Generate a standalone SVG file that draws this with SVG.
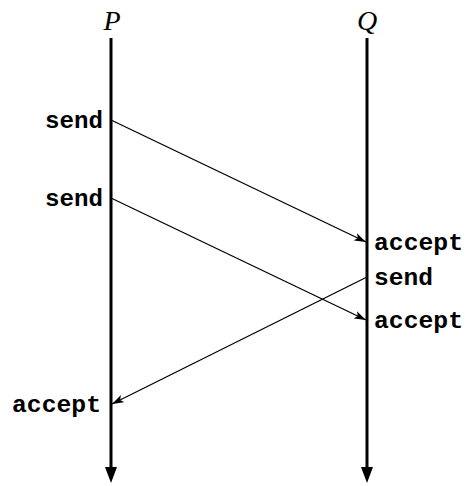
<svg xmlns="http://www.w3.org/2000/svg" width="465" height="486" viewBox="0 0 465 486">
<style>
.lbl{font-family:"Liberation Mono",monospace;font-weight:bold;font-size:23px;fill:#000}
.proc{font-family:"Liberation Serif",serif;font-style:italic;font-size:28px;fill:#000}
.life{stroke:#000;stroke-width:3;fill:none}
.msg{stroke:#000;stroke-width:1.3;fill:none}
</style>
<defs>
<marker id="ah" viewBox="0 0 12 8" refX="12" refY="4" markerWidth="12" markerHeight="8" markerUnits="userSpaceOnUse" orient="auto">
<path d="M0,0 L12,4 L0,8 L3,4 Z" fill="#000"/>
</marker>
</defs>
<g id="P">
<text class="proc" x="112" y="30" text-anchor="middle">P</text>
<line class="life" x1="111" y1="38" x2="111" y2="468"/>
<path d="M105,467 L117,467 L111,483 Z" fill="#000"/>
</g>
<g id="Q">
<text class="proc" x="367" y="30" text-anchor="middle">Q</text>
<line class="life" x1="367" y1="38" x2="367" y2="468"/>
<path d="M361,467 L373,467 L367,483 Z" fill="#000"/>
</g>
<g id="labels">
<text class="lbl" x="45" y="128" textLength="58" lengthAdjust="spacingAndGlyphs">send</text>
<text class="lbl" x="45" y="206" textLength="58" lengthAdjust="spacingAndGlyphs">send</text>
<text class="lbl" x="374" y="250" textLength="89" lengthAdjust="spacingAndGlyphs">accept</text>
<text class="lbl" x="374" y="285" textLength="59" lengthAdjust="spacingAndGlyphs">send</text>
<text class="lbl" x="374" y="328" textLength="89" lengthAdjust="spacingAndGlyphs">accept</text>
<text class="lbl" x="12" y="412" textLength="89" lengthAdjust="spacingAndGlyphs">accept</text>
</g>
<g id="connectors">
<line class="msg" x1="111" y1="120" x2="366" y2="242" marker-end="url(#ah)"/>
<line class="msg" x1="111" y1="198" x2="366" y2="320" marker-end="url(#ah)"/>
<line class="msg" x1="367" y1="277" x2="112" y2="404" marker-end="url(#ah)"/>
</g>
</svg>
